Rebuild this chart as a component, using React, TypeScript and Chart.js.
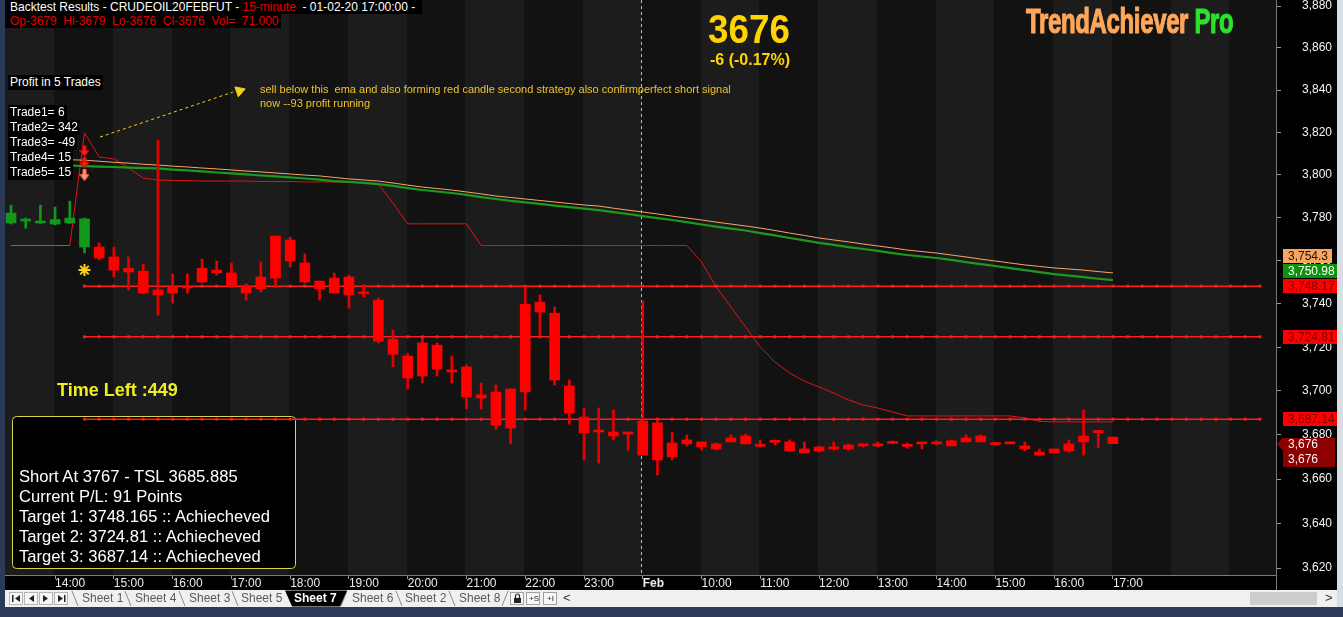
import React, { useEffect, useRef } from 'react';
import { Chart, registerables } from 'chart.js';

Chart.register(...registerables);

const FONT = '"Liberation Sans", Arial, Helvetica, sans-serif';

// ---------------- data ----------------
// 15-minute bars: bar 0 = 31 Jan 13:15, bar 43 = first bar of 1 Feb (09:00), bar 75 = 1 Feb 17:00
const hourTickIndex = [3, 7, 11, 15, 19, 23, 27, 31, 35, 39, 43, 47, 51, 55, 59, 63, 67, 71, 75];
const hourTickLabels = ['14:00', '15:00', '16:00', '17:00', '18:00', '19:00', '20:00', '21:00', '22:00', '23:00', 'Feb', '10:00', '11:00', '12:00', '13:00', '14:00', '15:00', '16:00', '17:00'];
const sessionBreakIndex = 43;
const priceTicks = [3620, 3640, 3660, 3680, 3700, 3720, 3740, 3760, 3780, 3800, 3820, 3840, 3860, 3880];

const opens = [
  3777.5, 3779.1, 3778.2, 3777.0, 3777.5, 3779.4, 3766.3, 3761.7, 3756.5, 3755.1,
  3744.1, 3745.0, 3747.3, 3750.1, 3755.6, 3754.3, 3748.2, 3746.9, 3751.9, 3769.6,
  3758.9, 3750.5, 3745.0, 3752.4, 3744.6, 3741.7, 3723.7, 3716.0, 3706.8, 3721.0,
  3709.6, 3711.0, 3696.8, 3699.5, 3683.1, 3699.5, 3740.8, 3735.7, 3702.3, 3688.1,
  3681.3, 3681.3, 3680.4, 3686.3, 3685.4, 3670.0, 3675.9, 3676.8, 3673.6, 3676.8,
  3679.5, 3675.4, 3676.6, 3676.8, 3671.8, 3672.7, 3674.5, 3673.6, 3675.0, 3675.0,
  3676.1, 3675.2, 3675.9, 3676.3, 3675.0, 3676.8, 3679.5, 3676.1, 3675.9, 3675.0,
  3672.2, 3671.8, 3672.7, 3676.8, 3681.0, 3679.0,
];
const highs = [
  3785.8, 3779.8, 3785.8, 3784.9, 3787.7, 3779.8, 3768.2, 3766.3, 3761.7, 3758.4,
  3816.4, 3753.8, 3753.8, 3760.7, 3759.8, 3758.9, 3749.2, 3759.4, 3771.4, 3770.9,
  3763.1, 3750.5, 3754.2, 3753.3, 3748.6, 3742.6, 3727.9, 3717.2, 3724.2, 3722.0,
  3716.0, 3711.9, 3703.6, 3702.7, 3700.9, 3747.8, 3744.1, 3738.5, 3705.0, 3692.2,
  3692.2, 3691.3, 3681.3, 3741.3, 3686.7, 3681.3, 3679.9, 3676.8, 3676.3, 3680.0,
  3680.4, 3677.7, 3677.7, 3677.7, 3676.8, 3674.9, 3676.8, 3675.9, 3675.9, 3676.8,
  3677.3, 3676.3, 3676.8, 3677.3, 3677.7, 3680.0, 3680.0, 3676.3, 3676.8, 3676.8,
  3673.6, 3673.6, 3677.7, 3691.3, 3682.0, 3679.0,
];
const lows = [
  3777.0, 3775.1, 3777.3, 3776.6, 3777.3, 3763.6, 3760.3, 3752.4, 3746.4, 3744.6,
  3734.8, 3740.3, 3745.0, 3749.6, 3753.3, 3747.8, 3741.7, 3745.5, 3747.8, 3757.0,
  3749.6, 3741.7, 3745.0, 3738.0, 3743.2, 3722.0, 3711.0, 3700.9, 3703.6, 3706.8,
  3703.6, 3691.8, 3691.8, 3682.6, 3675.9, 3691.3, 3725.6, 3702.7, 3684.9, 3668.6,
  3667.2, 3677.7, 3673.1, 3670.8, 3661.8, 3668.6, 3675.0, 3673.1, 3673.1, 3676.8,
  3675.9, 3674.5, 3675.4, 3672.7, 3671.8, 3672.2, 3673.1, 3673.1, 3674.5, 3674.5,
  3675.9, 3673.9, 3673.6, 3675.4, 3675.0, 3676.8, 3676.8, 3675.4, 3675.9, 3672.7,
  3670.8, 3671.8, 3672.2, 3670.8, 3674.1, 3676.0,
];
const closes = [
  3782.1, 3778.4, 3777.5, 3779.1, 3779.8, 3766.3, 3761.2, 3755.6, 3754.7, 3745.0,
  3746.4, 3747.8, 3748.0, 3756.5, 3754.3, 3747.8, 3745.0, 3752.4, 3771.4, 3759.8,
  3750.1, 3746.9, 3751.9, 3744.1, 3745.5, 3722.8, 3716.8, 3705.9, 3722.0, 3710.0,
  3708.7, 3697.3, 3698.2, 3684.4, 3700.9, 3739.8, 3736.2, 3705.0, 3690.0, 3680.9,
  3682.2, 3679.5, 3681.3, 3670.8, 3668.6, 3676.3, 3677.7, 3674.6, 3675.9, 3678.6,
  3675.9, 3674.8, 3677.3, 3672.7, 3673.6, 3674.5, 3673.6, 3675.4, 3675.6, 3675.9,
  3676.8, 3674.8, 3676.8, 3675.9, 3677.3, 3678.6, 3676.8, 3675.6, 3676.8, 3673.6,
  3670.8, 3673.6, 3675.9, 3679.5, 3682.0, 3676.0,
];
const longSignalBars = 6; // bars 0..5 painted green (long regime)

const emaStartIndex = 4;
const emaOrange = [
  3807.1, 3806.9, 3806.4, 3805.9, 3805.5, 3805.0, 3804.6, 3804.1, 3803.7, 3803.2,
  3802.8, 3802.3, 3801.8, 3801.4, 3800.9, 3800.4, 3799.9, 3799.5, 3798.8, 3798.1,
  3797.6, 3797.1, 3796.2, 3795.2, 3794.3, 3793.6, 3792.9, 3792.0, 3791.1, 3790.1,
  3789.4, 3788.7, 3788.0, 3787.3, 3786.6, 3785.9, 3785.4, 3784.4, 3783.5, 3782.6,
  3781.7, 3780.7, 3779.8, 3778.9, 3777.9, 3777.0, 3776.1, 3775.1, 3774.0, 3772.8,
  3771.7, 3770.5, 3769.6, 3768.7, 3767.7, 3766.8, 3765.9, 3764.9, 3764.2, 3763.5,
  3762.6, 3761.7, 3760.7, 3759.8, 3758.9, 3758.0, 3757.3, 3756.6, 3756.1, 3755.6,
  3754.9, 3754.3,
];
const emaGreen = [
  3804.4, 3804.1, 3803.9, 3803.7, 3803.4, 3803.2, 3803.0, 3802.5, 3802.1, 3801.6,
  3801.1, 3800.7, 3800.2, 3799.7, 3799.3, 3798.8, 3798.3, 3797.8, 3797.1, 3796.7,
  3796.2, 3795.7, 3794.8, 3793.8, 3792.9, 3792.2, 3791.5, 3790.6, 3789.6, 3788.7,
  3787.8, 3787.1, 3786.4, 3785.6, 3784.9, 3784.2, 3783.5, 3782.6, 3781.7, 3780.7,
  3779.8, 3778.9, 3777.9, 3776.8, 3775.8, 3774.9, 3774.0, 3772.8, 3771.7, 3770.5,
  3769.4, 3768.2, 3767.3, 3766.3, 3765.4, 3764.5, 3763.5, 3762.6, 3761.9, 3761.2,
  3760.3, 3759.3, 3758.4, 3757.5, 3756.5, 3755.6, 3754.7, 3753.7, 3753.0, 3752.3,
  3751.6, 3750.98,
];

const tslLong = [3767, 3767, 3767, 3767, 3767]; // bars 0..4
const tslShortStart = 4;
const tslShort = [
  3767, 3819.7, 3808.4, 3807.5, 3803.2, 3798.5, 3797.6, 3797.3, 3797.3, 3797.1,
  3797.1, 3797.1, 3797.1, 3796.9, 3796.9, 3796.9, 3796.7, 3796.7, 3796.7, 3796.5,
  3796.2, 3795.8, 3786.7, 3777.1, 3777.1, 3777.1, 3777.1, 3777.1, 3767, 3767,
  3767, 3767, 3767, 3767, 3767, 3767, 3767, 3767, 3767, 3767,
  3767, 3767, 3767, 3759.4, 3747.8, 3738.5, 3729.3, 3720.1, 3713.2, 3708.2,
  3704.5, 3701.8, 3699.0, 3695.9, 3693.6, 3692.2, 3690.4, 3688.6, 3688.6, 3688.6,
  3688.6, 3688.6, 3688.6, 3688.6, 3688.6, 3687.7, 3686.1, 3685.9, 3685.9, 3685.9,
  3685.9, 3685.885,
];

const targetLevels = [3748.17, 3724.81, 3687.14];
const targetFromIndex = 5;
const targetToIndex = 85;

const sellArrowsRed = [3811.2, 3805.8];
const sellArrowSalmon = [3799.9];
const signalIndex = 5;
const entryStarValue = 3755.6;

const noteArrowX = [6.06, 15.1];
const noteArrowY = [3817.8, 3839.0];
const noteHeadX = 15.55;
const noteHeadY = 3839.6;

// ---------------- helpers ----------------
const fmt = (v: number) => v.toLocaleString('en-US', { maximumFractionDigits: 2 });

function arrowImage(fill: string, stroke: string) {
  const c = document.createElement('canvas');
  c.width = 10;
  c.height = 12;
  const g = c.getContext('2d') as CanvasRenderingContext2D;
  g.fillStyle = fill;
  g.strokeStyle = stroke;
  g.lineWidth = 1;
  g.beginPath();
  g.moveTo(3.5, 0.5);
  g.lineTo(6.5, 0.5);
  g.lineTo(6.5, 5.5);
  g.lineTo(9.5, 5.5);
  g.lineTo(5, 11.5);
  g.lineTo(0.5, 5.5);
  g.lineTo(3.5, 5.5);
  g.closePath();
  g.fill();
  g.stroke();
  return c;
}

const decorPlugin = {
  id: 'decor',
  beforeDraw(chart: any) {
    const { ctx, chartArea: a, scales } = chart;
    const x = scales.x;
    ctx.save();
    ctx.fillStyle = '#000';
    ctx.fillRect(0, 0, chart.width, chart.height);
    const starts = [...hourTickIndex, 79, 83];
    const edges = [a.left];
    starts.forEach((i) => {
      const p = Math.round(x.getPixelForValue(i)) - 1;
      if (p > a.left && p < a.right) edges.push(p);
    });
    edges.push(a.right);
    for (let k = 0; k < edges.length - 1; k++) {
      ctx.fillStyle = k % 2 === 0 ? '#1c1c1c' : '#121212';
      ctx.fillRect(edges[k], a.top, edges[k + 1] - edges[k], a.bottom - a.top);
    }
    ctx.restore();
  },
  beforeDatasetsDraw(chart: any) {
    const { ctx, chartArea: a, scales } = chart;
    ctx.save();
    const sx = Math.round(scales.x.getPixelForValue(sessionBreakIndex)) - 1.5;
    ctx.strokeStyle = '#bdbdbd';
    ctx.lineWidth = 1;
    ctx.setLineDash([3, 3]);
    ctx.beginPath();
    ctx.moveTo(sx, a.top);
    ctx.lineTo(sx, a.bottom);
    ctx.stroke();
    ctx.setLineDash([]);
    // info panel
    ctx.fillStyle = '#000';
    ctx.strokeStyle = '#d6d64c';
    ctx.beginPath();
    if (ctx.roundRect) ctx.roundRect(12.5, 416.5, 283, 152, 4);
    else ctx.rect(12.5, 416.5, 283, 152);
    ctx.fill();
    ctx.stroke();
    ctx.restore();
  },
  afterDraw(chart: any) {
    const { ctx, chartArea: a, scales } = chart;
    const y = scales.y;
    ctx.save();
    ctx.strokeStyle = '#7a7a7a';
    ctx.lineWidth = 1;
    ctx.beginPath();
    ctx.moveTo(Math.round(a.right) + 0.5, a.bottom);
    ctx.lineTo(Math.round(a.right) + 0.5, a.bottom + 15);
    ctx.stroke();

    ctx.font = `12px ${FONT}`;
    ctx.textBaseline = 'middle';
    ctx.textAlign = 'left';
    const x0 = y.left + 7;
    const tags = [
      { v: emaOrange[emaOrange.length - 1], bg: '#f8a55f', fg: '#1e1206' },
      { v: emaGreen[emaGreen.length - 1], bg: '#0c930c', fg: '#ffffff' },
      ...targetLevels.map((v) => ({ v, bg: '#ff0000', fg: '#7a0000' })),
    ]
      .map((t) => ({ ...t, py: y.getPixelForValue(t.v), label: fmt(t.v) }))
      .sort((p, q) => q.py - p.py);
    const H = 14;
    let prevTop = Infinity;
    tags.forEach((t) => {
      let cy = t.py;
      if (cy + H / 2 > prevTop - 1) cy = prevTop - 1 - H / 2;
      const top = Math.round(cy - H / 2);
      const w = ctx.measureText(t.label).width + 9;
      ctx.fillStyle = t.bg;
      ctx.fillRect(x0, top, w, H);
      ctx.fillStyle = t.fg;
      ctx.fillText(t.label, x0 + 5, top + H / 2 + 0.5);
      prevTop = top;
    });

    // last close marker
    const last = closes[closes.length - 1];
    const cy = Math.round(y.getPixelForValue(last));
    ctx.fillStyle = '#8c0000';
    ctx.beginPath();
    ctx.moveTo(y.left + 1, cy);
    ctx.lineTo(x0, cy - 7);
    ctx.lineTo(x0, cy + 7);
    ctx.closePath();
    ctx.fill();
    ctx.fillRect(x0, cy - 6, 52, 29);
    ctx.fillStyle = '#f4f4f4';
    ctx.fillText(fmt(last), x0 + 5, cy + 1);
    ctx.fillText(fmt(last), x0 + 5, cy + 16);
    ctx.restore();
  },
};

const GREEN_BAR = '#12981a';
const RED_BAR = '#ff0000';

export default function App() {
  const ref = useRef<HTMLCanvasElement | null>(null);

  useEffect(() => {
    const idx = opens.map((_, i) => i);
    const barColor = (c: any) => (c.dataIndex < longSignalBars ? GREEN_BAR : RED_BAR);
    const wickColor = (c: any) => (c.dataIndex < longSignalBars ? GREEN_BAR : '#e80000');

    const lineBase = { type: 'line', pointRadius: 0, fill: false, tension: 0 } as any;

    const datasets: any[] = [
      {
        type: 'bar',
        label: 'wick',
        data: idx.map((i) => ({ x: i, y: [lows[i], highs[i]] })),
        backgroundColor: wickColor,
        barThickness: 2,
        grouped: false,
        order: 3,
      },
      {
        type: 'bar',
        label: 'body',
        data: idx.map((i) => ({ x: i, y: [Math.min(opens[i], closes[i]), Math.max(opens[i], closes[i])] })),
        backgroundColor: barColor,
        barThickness: 10,
        minBarLength: 2,
        grouped: false,
        order: 2,
      },
      ...targetLevels.map((t) => ({
        ...lineBase,
        label: 'target',
        data: Array.from({ length: targetToIndex - targetFromIndex + 1 }, (_, k) => ({ x: targetFromIndex + k, y: t })),
        borderColor: '#ff1c1c',
        borderWidth: 1.5,
        pointRadius: 2,
        pointStyle: 'rect',
        pointBackgroundColor: '#ff1c1c',
        pointBorderWidth: 0,
        order: 5,
      })),
      {
        ...lineBase,
        label: 'ema orange',
        data: emaOrange.map((v, k) => ({ x: emaStartIndex + k, y: v })),
        borderColor: '#f7a468',
        borderWidth: 1,
        order: 6,
      },
      {
        ...lineBase,
        label: 'ema green',
        data: emaGreen.map((v, k) => ({ x: emaStartIndex + k, y: v })),
        borderColor: '#1c9a1c',
        borderWidth: 2.2,
        order: 7,
      },
      {
        ...lineBase,
        label: 'tsl long',
        data: tslLong.map((v, k) => ({ x: k, y: v })),
        borderColor: '#22a622',
        borderWidth: 1,
        order: 8,
      },
      {
        ...lineBase,
        label: 'tsl short',
        data: tslShort.map((v, k) => ({ x: tslShortStart + k, y: v })),
        borderColor: '#e01414',
        borderWidth: 1,
        order: 8,
      },
      {
        ...lineBase,
        label: 'sell arrows',
        showLine: false,
        data: sellArrowsRed.map((v) => ({ x: signalIndex, y: v })),
        pointStyle: arrowImage('#ff1a1a', '#d00000'),
        pointRadius: 6,
        order: 1,
      },
      {
        ...lineBase,
        label: 'sell arrow 2',
        showLine: false,
        data: sellArrowSalmon.map((v) => ({ x: signalIndex, y: v })),
        pointStyle: arrowImage('#ff9a78', '#ff6a4a'),
        pointRadius: 6,
        order: 1,
      },
      {
        ...lineBase,
        label: 'entry',
        showLine: false,
        data: [{ x: signalIndex, y: entryStarValue }],
        pointStyle: 'star',
        pointRadius: 6,
        borderColor: '#ffd21a',
        pointBorderColor: '#ffd21a',
        pointBorderWidth: 2,
        order: 1,
      },
      {
        ...lineBase,
        label: 'note arrow',
        data: noteArrowX.map((x, k) => ({ x, y: noteArrowY[k] })),
        borderColor: '#f2d21e',
        borderWidth: 1,
        borderDash: [3, 3],
        order: 0,
      },
      {
        ...lineBase,
        label: 'note head',
        showLine: false,
        data: [{ x: noteHeadX, y: noteHeadY }],
        pointStyle: 'triangle',
        pointRotation: 71,
        pointRadius: 6,
        pointBackgroundColor: '#f2d21e',
        pointBorderColor: '#f2d21e',
        order: 0,
      },
    ];

    const chart = new Chart(ref.current as HTMLCanvasElement, {
      type: 'bar',
      data: { datasets },
      options: {
        animation: false,
        responsive: false,
        events: [],
        layout: { autoPadding: false, padding: { left: 5, right: 6, top: 0, bottom: 27 } },
        plugins: { legend: { display: false }, tooltip: { enabled: false } },
        scales: {
          x: {
            type: 'linear',
            min: -0.41,
            max: 86.1,
            offset: false,
            afterBuildTicks: (s: any) => {
              s.ticks = hourTickIndex.map((v) => ({ value: v }));
            },
            afterFit: (s: any) => {
              s.height = 15;
              s.paddingLeft = 0;
              s.paddingRight = 0;
            },
            ticks: {
              autoSkip: false,
              maxRotation: 0,
              align: 'start',
              padding: -3,
              color: '#ececec',
              callback: (_v: any, i: number) => hourTickLabels[i],
              font: (c: any) => ({
                family: FONT,
                size: 12,
                weight: c.tick && c.tick.label === 'Feb' ? 'bold' : 'normal',
              }),
            },
            grid: { drawOnChartArea: false, drawTicks: true, tickLength: 4, color: '#9a9a9a', offset: false },
            border: { display: true, color: '#7a7a7a' },
          },
          y: {
            type: 'logarithmic',
            position: 'right',
            min: 3616.9,
            max: 3882.9,
            afterBuildTicks: (s: any) => {
              s.ticks = priceTicks.map((v) => ({ value: v }));
            },
            afterFit: (s: any) => {
              s.width = 61;
              s.paddingTop = 0;
              s.paddingBottom = 0;
            },
            ticks: {
              color: '#f4f4f4',
              crossAlign: 'near',
              padding: 21,
              autoSkip: false,
              callback: (v: any) => Number(v).toLocaleString('en-US'),
              font: { family: FONT, size: 12 },
            },
            grid: { drawOnChartArea: false, drawTicks: true, tickLength: 5, color: '#9a9a9a' },
            border: { display: true, color: '#7a7a7a' },
          },
        },
      } as any,
      plugins: [decorPlugin],
    } as any);

    return () => chart.destroy();
  }, []);

  const abs = (s: any) => ({ position: 'absolute', whiteSpace: 'pre', fontFamily: FONT, ...s });
  const tradeRows = ['Trade1= 6', 'Trade2= 342', 'Trade3= -49', 'Trade4= 15', 'Trade5= 15'];
  const panelRows = [
    'Short At 3767 - TSL 3685.885',
    'Current P/L: 91 Points',
    'Target 1: 3748.165 :: Achiecheved',
    'Target 2: 3724.81 :: Achiecheved',
    'Target 3: 3687.14 :: Achiecheved',
  ];
  const sheetTabs = [
    { t: 'Sheet 1', x: 82 },
    { t: 'Sheet 4', x: 135 },
    { t: 'Sheet 3', x: 189 },
    { t: 'Sheet 5', x: 241 },
    { t: 'Sheet 7', x: 294, active: true },
    { t: 'Sheet 6', x: 352 },
    { t: 'Sheet 2', x: 405 },
    { t: 'Sheet 8', x: 459 },
  ];

  return (
    <div style={{ position: 'fixed', left: 0, top: 0, width: 1343, height: 617, overflow: 'hidden', background: '#000' }}>
      <canvas ref={ref} width={1343} height={617} style={{ position: 'absolute', left: 0, top: 0, width: 1343, height: 617 }} />

      {/* frame */}
      <div style={{ position: 'absolute', left: 0, top: 0, width: 5, height: 617, background: '#2b3b57' }} />
      <div style={{ position: 'absolute', left: 0, top: 607, width: 1343, height: 10, background: '#2b3b57' }} />
      <div style={{ position: 'absolute', left: 1337, top: 0, width: 6, height: 607, background: '#d9dde4' }} />

      {/* header */}
      <div style={abs({ left: 5, top: 0, height: 14, background: '#000', padding: '0 3px 0 5px', font: `12px ${FONT}`, lineHeight: '14px', color: '#fff' })}>
        {'Backtest Results - CRUDEOIL20FEBFUT - '}
        <span style={{ color: '#e00000' }}>15-minute</span>
        {'  - 01-02-20 17:00:00 - '}
      </div>
      <div style={abs({ left: 5, top: 14, height: 14, background: '#000', padding: '0 2px 0 5px', font: `12px ${FONT}`, lineHeight: '14px', color: '#e00000' })}>
        {'Op-3679  Hi-3679  Lo-3676  Cl-3676  Vol=  71.000'}
      </div>

      {/* trade summary */}
      <div style={abs({ left: 8, top: 75, background: '#000', padding: '0 2px', font: `12px ${FONT}`, lineHeight: '15px', color: '#fff' })}>Profit in 5 Trades</div>
      {tradeRows.map((r, k) => (
        <div key={r} style={abs({ left: 8, top: 105 + k * 15, background: '#000', padding: '0 2px', font: `12px ${FONT}`, lineHeight: '15px', color: '#fff' })}>{r}</div>
      ))}

      {/* note */}
      <div style={abs({ left: 260, top: 82, font: `11px ${FONT}`, lineHeight: '14px', color: '#efc424' })}>
        {'sell below this  ema and also forming red candle second strategy also confirmperfect short signal\nnow --93 profit running'}
      </div>

      {/* last price */}
      <div style={abs({ left: 649, width: 200, top: 9, textAlign: 'center', font: `bold 40px ${FONT}`, lineHeight: '40px', color: '#ffd400', transform: 'scaleX(0.92)' })}>3676</div>
      <div style={abs({ left: 650, width: 200, top: 52, textAlign: 'center', font: `bold 16px ${FONT}`, lineHeight: '16px', color: '#ffd400' })}>-6 (-0.17%)</div>

      {/* brand */}
      <div style={abs({ left: 1026, top: 3, font: `bold 35px ${FONT}`, lineHeight: '35px', transform: 'scaleX(0.685)', transformOrigin: 'left top', letterSpacing: '-0.5px' })}>
        <span style={{ color: '#ffa75a', WebkitTextStroke: '1.2px #ffa75a' }}>TrendAchiever</span>
        <span style={{ color: '#2ae32a', WebkitTextStroke: '1.2px #2ae32a' }}> Pro</span>
      </div>

      {/* time left */}
      <div style={abs({ left: 57, top: 381, font: `bold 18px ${FONT}`, lineHeight: '18px', color: '#eeee22' })}>Time Left :449</div>

      {/* info panel text */}
      {panelRows.map((r, k) => (
        <div key={r} style={abs({ left: 19, top: 467 + k * 20, font: `16.6px ${FONT}`, lineHeight: '20px', color: '#fff' })}>{r}</div>
      ))}

      {/* sheet tabs bar */}
      <div style={{ position: 'absolute', left: 5, top: 590, width: 1332, height: 17, background: '#f0f0f0' }} />
      <svg style={{ position: 'absolute', left: 0, top: 590 }} width={1343} height={17}>
        <g fill="#f7f7f7" stroke="#b5b5b5">
          <rect x={9.5} y={2.5} width={13} height={12} />
          <rect x={24.5} y={2.5} width={13} height={12} />
          <rect x={39.5} y={2.5} width={13} height={12} />
          <rect x={54.5} y={2.5} width={13} height={12} />
        </g>
        <g fill="#222">
          <rect x={12} y={5} width={1.5} height={7} />
          <polygon points="20,5 20,12 15,8.5" />
          <polygon points="34,5 34,12 29,8.5" />
          <polygon points="43,5 43,12 48,8.5" />
          <polygon points="58,5 58,12 63,8.5" />
          <rect x={64} y={5} width={1.5} height={7} />
        </g>
        <g stroke="#8a8a8a" strokeWidth={1} fill="none">
          <line x1={72} y1={1} x2={78} y2={16} />
          <line x1={125} y1={1} x2={131} y2={16} />
          <line x1={179} y1={1} x2={185} y2={16} />
          <line x1={232} y1={1} x2={238} y2={16} />
          <line x1={341} y1={16} x2={347} y2={1} />
          <line x1={396} y1={1} x2={402} y2={16} />
          <line x1={449} y1={1} x2={455} y2={16} />
          <line x1={502} y1={16} x2={508} y2={1} />
        </g>
        <polygon points="285,0.5 347,0.5 340,16.5 292,16.5" fill="#000" />
        <g stroke="#a0a0a0" fill="#f7f7f7">
          <rect x={510.5} y={2.5} width={13} height={12} />
          <rect x={526.5} y={2.5} width={13} height={12} />
          <rect x={543.5} y={2.5} width={13} height={12} />
        </g>
        <g fill="#222">
          <rect x={514} y={8} width={7} height={5} />
          <path d="M515.5 8 v-2 a2 2 0 0 1 4 0 v2" stroke="#222" strokeWidth={1.2} fill="none" />
        </g>
        <rect x={1250} y={2} width={67} height={13} fill="#cdcdcd" />
      </svg>
      {sheetTabs.map((s) => (
        <div key={s.t} style={abs({ left: s.x, top: 591, font: `${s.active ? 'bold ' : ''}12px ${FONT}`, lineHeight: '15px', color: s.active ? '#fff' : '#5a5a5a' })}>{s.t}</div>
      ))}
      <div style={abs({ left: 529, top: 592, font: `8px ${FONT}`, lineHeight: '13px', color: '#222' })}>+S</div>
      <div style={abs({ left: 547, top: 592, font: `8px ${FONT}`, lineHeight: '13px', color: '#222' })}>+I</div>
      <div style={abs({ left: 563, top: 590, font: `13px ${FONT}`, lineHeight: '16px', color: '#333' })}>{'<'}</div>
      <div style={abs({ left: 1325, top: 590, font: `13px ${FONT}`, lineHeight: '16px', color: '#333' })}>{'>'}</div>
    </div>
  );
}
